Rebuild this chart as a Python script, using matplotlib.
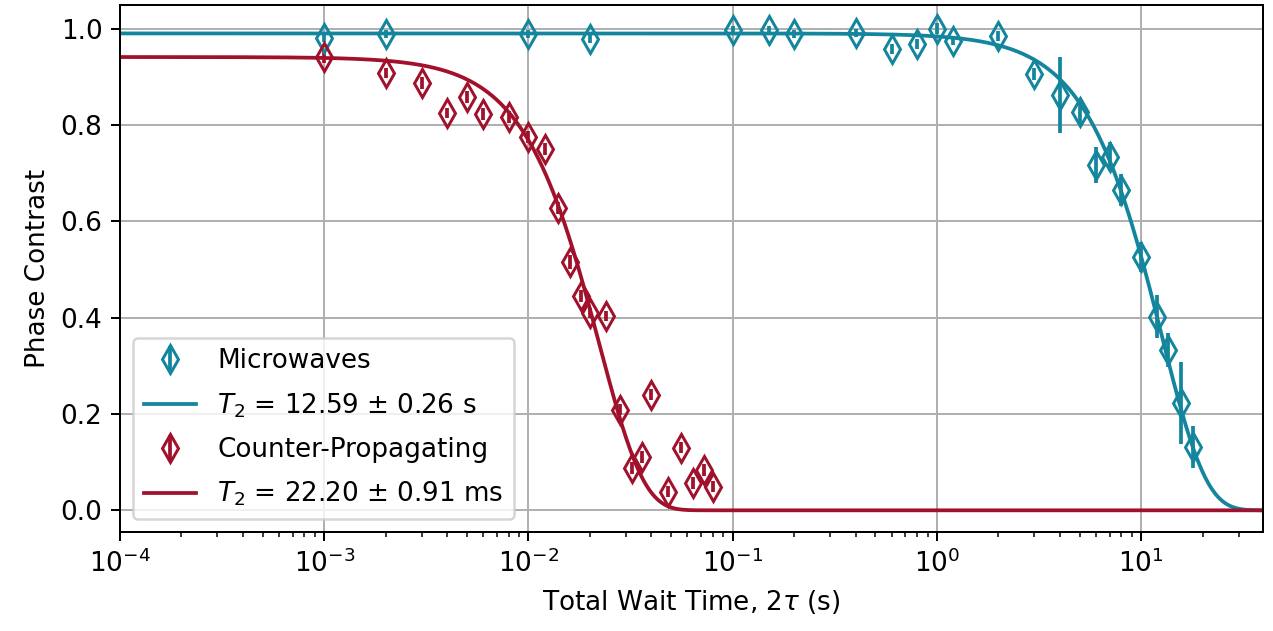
import numpy as np
import matplotlib
matplotlib.use("Agg")
import matplotlib.pyplot as plt

TEAL = "#13869e"
CRIMSON = "#a1112c"

plt.rcParams["font.size"] = 10.5

# microwave Ramsey/echo data: wait time (s), contrast, error
mw_t = [1e-3, 2e-3, 1e-2, 2e-2, 0.1, 0.15, 0.2, 0.4, 0.6, 0.8, 1.0, 1.2, 2.0,
        3.0, 4.0, 5.0, 6.0, 7.0, 8.0, 10.0, 12.0, 13.5, 15.6, 18.0]
mw_c = [0.981, 0.989, 0.989, 0.979, 0.997, 0.997, 0.989, 0.991, 0.958, 0.968,
        1.000, 0.975, 0.985, 0.906, 0.862, 0.827, 0.717, 0.734, 0.665, 0.526,
        0.402, 0.333, 0.223, 0.132]
mw_err = [0.008, 0.008, 0.008, 0.008, 0.008, 0.008, 0.008, 0.008, 0.010, 0.010,
          0.012, 0.010, 0.010, 0.012, 0.079, 0.025, 0.037, 0.030, 0.033, 0.031,
          0.045, 0.035, 0.085, 0.044]

# counter-propagating Raman data
cp_t = [1e-3, 2e-3, 3e-3, 4e-3, 5e-3, 6e-3, 8e-3, 1e-2, 0.012, 0.014, 0.016,
        0.018, 0.020, 0.024, 0.028, 0.032, 0.036, 0.040, 0.048, 0.056, 0.064,
        0.072, 0.080]
cp_c = [0.941, 0.908, 0.887, 0.825, 0.858, 0.823, 0.817, 0.775, 0.750, 0.628,
        0.516, 0.445, 0.410, 0.404, 0.209, 0.088, 0.111, 0.240, 0.039, 0.130,
        0.057, 0.084, 0.049]
cp_err = [0.012, 0.010, 0.012, 0.010, 0.012, 0.012, 0.012, 0.012, 0.012, 0.012,
          0.015, 0.012, 0.010, 0.010, 0.012, 0.012, 0.012, 0.012, 0.012, 0.012,
          0.012, 0.012, 0.012]

# Gaussian decay fit results: amplitude, T2 (s)
mw_amp, mw_T2 = 0.990, 12.59
cp_amp, cp_T2 = 0.941, 22.20e-3


def decay(t, amp, T2):
    return amp * np.exp(-(t / T2) ** 2)


t_fit = np.logspace(-4, np.log10(40), 600)

fig = plt.figure(figsize=(1273 / 180, 631 / 180), dpi=180)
ax = fig.add_axes([120 / 1273, 1 - 532 / 631, 1143 / 1273, 527 / 631])

ax.errorbar(mw_t, mw_c, yerr=mw_err, fmt="d", color=TEAL, mfc="none",
            ms=8, mew=1.2, elinewidth=1.5, label="Microwaves")
ax.plot(t_fit, decay(t_fit, mw_amp, mw_T2), color=TEAL, lw=1.5,
        label=r"$T_2$ = 12.59 ± 0.26 s")
ax.errorbar(cp_t, cp_c, yerr=cp_err, fmt="d", color=CRIMSON, mfc="none",
            ms=8, mew=1.2, elinewidth=1.5, label="Counter-Propagating")
ax.plot(t_fit, decay(t_fit, cp_amp, cp_T2), color=CRIMSON, lw=1.5,
        label=r"$T_2$ = 22.20 ± 0.91 ms")

ax.set_xscale("log")
ax.set_xlim(1e-4, 39.5)
ax.set_ylim(-0.045, 1.049)
ax.set_xlabel(r"Total Wait Time, $2\tau$ (s)")
ax.set_ylabel("Phase Contrast")
ax.grid(True)

# keep each data set next to its fit in the legend
handles, labels = ax.get_legend_handles_labels()
order = [2, 0, 3, 1]
ax.legend([handles[i] for i in order], [labels[i] for i in order],
          loc="lower left", labelspacing=0.65)

fig.savefig("out.png", dpi=180)
